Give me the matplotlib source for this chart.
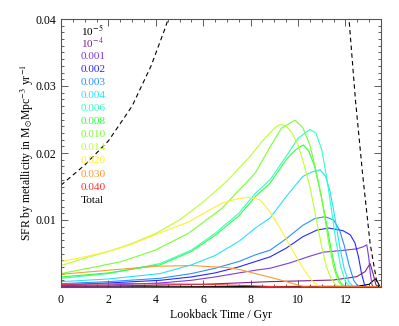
import numpy as np
import matplotlib
matplotlib.use("Agg")
import matplotlib.pyplot as plt
from matplotlib.ticker import MultipleLocator

plt.rcParams["font.family"] = ["Liberation Serif", "DejaVu Serif"]
plt.rcParams["mathtext.fontset"] = "stix"

# ── Data (lookback time in Gyr, SFR in Msun/Mpc^3/yr) ──
labels = ["10$^{-5}$", "10$^{-4}$", "0.001", "0.002", "0.003", "0.004", "0.006",
          "0.008", "0.010", "0.014", "0.020", "0.030", "0.040"]
colors = ["#000000", "#80208c", "#7a3ce0", "#2828ff", "#2890ff", "#28e0ff",
          "#30ffc0", "#30ff40", "#78ff30", "#b8ff30", "#fff030", "#ff9a30", "#ff3030"]

t_z1 = [0, 12.5, 13.0, 13.25, 13.35, 13.45, 13.5]
s_z1 = [0, 0.0001, 0.0004, 0.0012, 0.0008, 0.0001, 0]

t_z2 = [0, 3, 6, 8.82, 10, 11.49, 12.48, 12.83, 13.04, 13.18, 13.29, 13.4, 13.5]
s_z2 = [0.0001, 0.0002, 0.0004, 0.0008, 0.0009, 0.00104, 0.00154, 0.0023, 0.0035,
        0.0018, 0.0003, 0, 0]

t_z3 = [0, 2, 4.18, 5.5, 6.5, 7.5, 8.2, 8.82, 9.66, 10.5, 11.07, 12.0, 12.48,
        12.75, 12.9, 12.98, 13.05, 13.12, 13.2, 13.5]
s_z3 = [0.0002, 0.0003, 0.0006, 0.0010, 0.0015, 0.0021, 0.0025, 0.0028, 0.0036,
        0.0046, 0.0052, 0.0055, 0.0057, 0.0060, 0.0063, 0.0045, 0.0020, 0.0003, 0, 0]

t_z4 = [0, 2, 4.18, 5.5, 6.5, 7.5, 8.2, 8.82, 9.5, 10.2, 10.8, 11.3, 11.9, 12.2,
        12.4, 12.55, 12.68, 12.8, 12.9, 13.5]
s_z4 = [0.0003, 0.0006, 0.0010, 0.0015, 0.0021, 0.0030, 0.0038, 0.0045, 0.0058,
        0.0075, 0.0085, 0.0088, 0.0084, 0.0078, 0.0066, 0.0045, 0.0020, 0.0004, 0, 0]

t_z5 = [0, 2, 4.18, 5.5, 6.5, 7.5, 8.2, 8.82, 9.5, 10.2, 10.7, 11.14, 11.5, 11.75,
        11.95, 12.15, 12.35, 12.55, 13.5]
s_z5 = [0.0005, 0.0008, 0.0013, 0.0020, 0.0028, 0.0038, 0.0048, 0.0055, 0.0072,
        0.0092, 0.0102, 0.0105, 0.0100, 0.0085, 0.0062, 0.0033, 0.0010, 0, 0]

t_z6 = [0, 2, 4.18, 5.5, 6.5, 7.5, 8.2, 8.82, 9.5, 10.2, 10.6, 10.93, 11.15,
        11.35, 11.55, 11.75, 11.95, 12.15, 12.35, 13.5]
s_z6 = [0.0008, 0.0012, 0.0020, 0.0033, 0.0047, 0.0068, 0.0088, 0.0103, 0.0135,
        0.0165, 0.0172, 0.0175, 0.0166, 0.0143, 0.0105, 0.0062, 0.0027, 0.0007, 0, 0]

t_z7 = [0, 2, 4.18, 5.5, 6.5, 7.5, 8.2, 8.82, 9.5, 10.0, 10.5, 10.75, 11.0, 11.2,
        11.4, 11.6, 11.8, 12.0, 12.2, 13.5]
s_z7 = [0.0013, 0.0020, 0.0035, 0.0055, 0.0080, 0.0110, 0.0140, 0.0160, 0.0195,
        0.0222, 0.0235, 0.0230, 0.0205, 0.0165, 0.0118, 0.0068, 0.0030, 0.0008, 0, 0]

t_z8 = [0, 2, 4.18, 5.5, 6.5, 7.5, 8.2, 8.82, 9.5, 9.9, 10.22, 10.45, 10.7, 11.0,
        11.2, 11.4, 11.6, 11.8, 12.0, 13.5]
s_z8 = [0.0015, 0.0021, 0.0033, 0.0053, 0.0077, 0.0106, 0.0135, 0.0155, 0.0190,
        0.0205, 0.0212, 0.0203, 0.0180, 0.0132, 0.0095, 0.0055, 0.0023, 0.0006, 0, 0]

t_z9 = [0, 1.15, 2.56, 3.97, 5.37, 6.78, 8.19, 8.82, 9.3, 9.87, 10.2, 10.5, 10.75,
        10.93, 11.1, 11.3, 11.5, 11.7, 11.9, 13.5]
s_z9 = [0.0020, 0.0028, 0.0038, 0.0055, 0.0080, 0.0117, 0.0170, 0.0209, 0.0237,
        0.0249, 0.0238, 0.0212, 0.0175, 0.0145, 0.0110, 0.0065, 0.0030, 0.0008,
        0.0001, 0]

t_z10 = [0, 1, 2, 3, 4, 5, 6, 7, 8, 8.5, 9.0, 9.25, 9.5, 9.75, 10.0, 10.25, 10.5,
         10.75, 11.0, 11.2, 11.4, 11.6, 11.8, 13.5]
s_z10 = [0.0032, 0.0043, 0.0053, 0.0065, 0.0080, 0.0100, 0.0127, 0.0158, 0.0196,
         0.0218, 0.0237, 0.0243, 0.0240, 0.0230, 0.0212, 0.0183, 0.0150, 0.0105,
         0.0060, 0.0030, 0.0012, 0.0003, 0, 0]

t_z11 = [0, 1, 2, 3, 3.97, 5.37, 6.78, 7.5, 7.97, 8.4, 8.82, 9.2, 9.66, 10.0,
         10.37, 10.6, 10.85, 11.1, 13.5]
s_z11 = [0.0038, 0.0045, 0.0053, 0.0064, 0.0078, 0.0097, 0.0125, 0.0132, 0.0134,
         0.0130, 0.0112, 0.0090, 0.0062, 0.0040, 0.0020, 0.0009, 0.0002, 0, 0]

t_z12 = [0, 1, 2, 3, 4, 5.5, 7, 7.55, 8.2, 9, 9.5, 10.2, 10.5, 13.5]
s_z12 = [0.0019, 0.0022, 0.0025, 0.0028, 0.0031, 0.0032, 0.0029, 0.0026, 0.0020,
         0.0013, 0.0008, 0.0001, 0, 0]

t_z13 = [0, 3, 6, 8, 9, 10, 13.5]
s_z13 = [0.0004, 0.0005, 0.0004, 0.0002, 0.00005, 0, 0]

# total, broken where it leaves the top of the frame
t_total = [0, 1, 2, 3, 3.8, 4.39, 4.8, np.nan, 11.9, 12.15, 12.42, 12.72, 13.04,
           13.3, 13.4]
s_total = [0.0152, 0.0182, 0.0218, 0.0270, 0.0330, 0.0386, 0.0430, np.nan, 0.052,
           0.0400, 0.0280, 0.0170, 0.0065, 0.0012, 0]

series_t = [t_z1, t_z2, t_z3, t_z4, t_z5, t_z6, t_z7, t_z8, t_z9, t_z10, t_z11, t_z12, t_z13]
series_s = [s_z1, s_z2, s_z3, s_z4, s_z5, s_z6, s_z7, s_z8, s_z9, s_z10, s_z11, s_z12, s_z13]

# ── Figure ──
fig = plt.figure(figsize=(3.99, 3.26), dpi=100)
ax = fig.add_axes([61 / 399, 39 / 326, 320 / 399, 268 / 326])

for t, s, c in zip(series_t, series_s, colors):
    ax.plot(t, s, color=c, lw=0.8)
ax.plot(t_total, s_total, color="black", lw=0.8, ls=(0, (4, 3)))

ax.set_xlim(0, 13.5)
ax.set_ylim(0, 0.04)
ax.xaxis.set_major_locator(MultipleLocator(2))
ax.xaxis.set_minor_locator(MultipleLocator(0.5))
ax.set_yticks([0.01, 0.02, 0.03, 0.04])
ax.yaxis.set_minor_locator(MultipleLocator(0.001))
ax.set_yticklabels(["0.01", "0.02", "0.03", "0.04"])
ax.tick_params(which="both", direction="in", top=True, right=True,
               labelsize=8.5, colors="#444444", labelcolor="black", width=0.6)
ax.tick_params(which="major", length=5)
ax.tick_params(which="minor", length=2.5)
ax.tick_params(axis="x", pad=5)
for sp in ax.spines.values():
    sp.set_color("#555555")
    sp.set_linewidth(0.8)

ax.set_xlabel("Lookback Time / Gyr", fontsize=8.5, labelpad=2)
fig.text(27 / 399, 1 - 153 / 326,
         r"SFR by metallicity in M$_{\odot}$Mpc$^{-3}$ yr$^{-1}$", fontsize=8.5,
         rotation=90, ha="center", va="center")

# legend as coloured text
for i, (lab, c) in enumerate(zip(labels + ["Total"], colors + ["black"])):
    ax.text(0.062, 0.963 - i * 0.0489, lab, color=c, fontsize=8.2,
            transform=ax.transAxes, va="center_baseline", ha="left")

fig.savefig("out.png", dpi=100)
